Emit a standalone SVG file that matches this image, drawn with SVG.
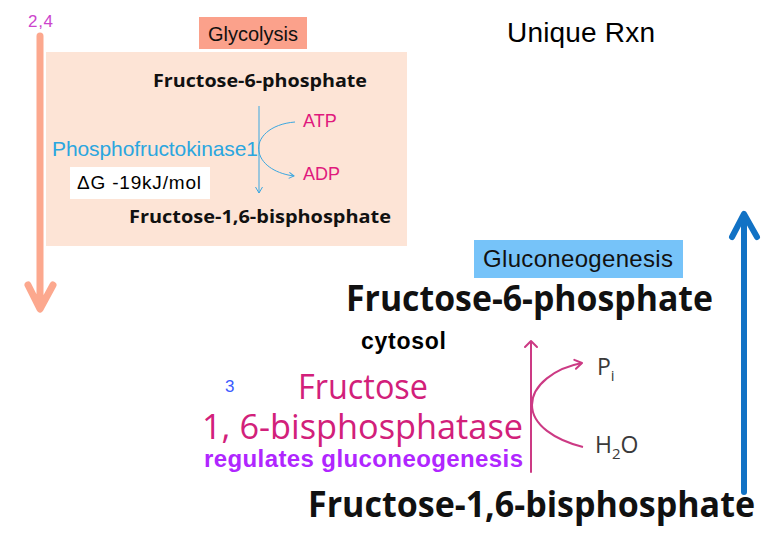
<svg xmlns="http://www.w3.org/2000/svg" width="775" height="535" viewBox="0 0 775 535">
<style>
.ar{font-family:"Liberation Sans",Arial,sans-serif}
.hb{font-family:"Open Sans","Noto Sans",sans-serif;font-weight:700;fill:#111}
.hu{font-family:"Open Sans","Noto Sans",sans-serif}
</style>
<defs>
<marker id="mb" markerWidth="8" markerHeight="8" refX="6" refY="4" orient="auto" markerUnits="userSpaceOnUse">
<path d="M1,1 L6,4 L1,7" fill="none" stroke="#3ba7e0" stroke-width="1"/>
</marker>
<marker id="mp" markerWidth="12" markerHeight="12" refX="10" refY="6" orient="auto" markerUnits="userSpaceOnUse">
<path d="M3,1.5 L10,6 L3,10.5" fill="none" stroke="#cc3a84" stroke-width="2" stroke-linecap="round" stroke-linejoin="round"/>
</marker>
</defs>
<rect width="775" height="535" fill="#fff"/>

<g id="glycolysis-panel">
<rect x="46" y="52" width="361" height="194" fill="#fde4d6"/>
</g>
<g id="glycolysis-label">
<rect x="199" y="17" width="108" height="32" fill="#fba18b"/>
<text x="253" y="41" class="ar" font-size="20" text-anchor="middle" fill="#111">Glycolysis</text>
</g>
<g id="label-24"><text x="28" y="27" class="ar" font-size="17" fill="#cc44cc" textLength="25">2,4</text></g>
<g id="unique"><text x="507" y="42" class="ar" font-size="28" fill="#000" textLength="148">Unique Rxn</text></g>

<g id="f6p-small"><text x="153" y="87" class="hb" font-size="18" textLength="214" lengthAdjust="spacingAndGlyphs">Fructose-6-phosphate</text></g>
<g id="f16bp-small"><text x="129" y="223" class="hb" font-size="18" textLength="262" lengthAdjust="spacingAndGlyphs">Fructose-1,6-bisphosphate</text></g>
<g id="pfk1"><text x="52" y="156" class="ar" font-size="21" fill="#2ba6df" textLength="206">Phosphofructokinase1</text></g>
<g id="atp"><text x="303" y="127" class="ar" font-size="18" fill="#e0197d">ATP</text></g>
<g id="adp"><text x="303" y="180" class="ar" font-size="18" fill="#e0197d">ADP</text></g>
<g id="dg">
<rect x="70" y="167" width="140" height="32" fill="#fff"/>
<text x="77" y="189" class="ar" font-size="19" fill="#000" textLength="124">ΔG -19kJ/mol</text>
</g>

<g id="gluco-label">
<rect x="474" y="240" width="209" height="38" fill="#76c3f9"/>
<text x="578" y="267" class="ar" font-size="24" text-anchor="middle" fill="#111" textLength="190">Gluconeogenesis</text>
</g>
<g id="f6p-big"><text x="346" y="311" class="hb" font-size="35" textLength="367" lengthAdjust="spacingAndGlyphs">Fructose-6-phosphate</text></g>
<g id="cytosol"><text x="361" y="349" class="ar" font-size="23" font-weight="700" fill="#000" textLength="85">cytosol</text></g>
<g id="label-3"><text x="225" y="392" class="ar" font-size="17" fill="#3b5bff">3</text></g>
<g id="fbpase">
<text x="298" y="399" class="hu" font-size="34" fill="#d2207a" textLength="130" lengthAdjust="spacingAndGlyphs">Fructose</text>
<text x="202" y="439" class="hu" font-size="34" fill="#d2207a" textLength="321" lengthAdjust="spacingAndGlyphs">1, 6-bisphosphatase</text>
</g>
<g id="regulates"><text x="204" y="467" class="ar" font-size="24" font-weight="700" fill="#b026ff" textLength="319">regulates gluconeogenesis</text></g>
<g id="pi"><text x="597" y="375" class="hu" font-size="23" fill="#3a3a3a">P<tspan font-size="15" dy="6">i</tspan></text></g>
<g id="h2o"><text x="595" y="453" class="hu" font-size="23" fill="#3a3a3a">H<tspan font-size="15" dy="6">2</tspan><tspan dy="-6">O</tspan></text></g>
<g id="f16bp-big"><text x="308" y="517" class="hb" font-size="35" textLength="447" lengthAdjust="spacingAndGlyphs">Fructose-1,6-bisphosphate</text></g>

<g id="connectors" fill="none">
<path d="M40,36 V308 M28,285 L40,309 L53,285" stroke="#fca88e" stroke-width="7" stroke-linecap="round" stroke-linejoin="round"/>
<path d="M744,492 V216 M732,237 L744,214 L757,237" stroke="#1172c5" stroke-width="6" stroke-linecap="round" stroke-linejoin="round"/>
<path d="M259,106 V193 M255.5,187 L259,193 L262.5,187" stroke="#3ba7e0" stroke-width="1"/>
<path d="M295,122 C270,124 256,138 259,152 C262,166 278,174 294,176" stroke="#3ba7e0" stroke-width="1" marker-end="url(#mb)"/>
<path d="M531,472 V341 M525,347 L531,341 L537,347" stroke="#cc3a84" stroke-width="2" stroke-linecap="round" stroke-linejoin="round"/>
<path d="M583,447 C555,440 532,425 532,405 C532,385 555,368 582,363" stroke="#cc3a84" stroke-width="2" marker-end="url(#mp)"/>
</g>
</svg>
